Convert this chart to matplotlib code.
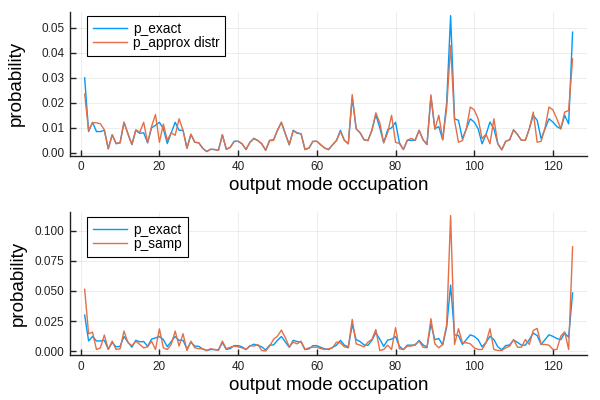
import matplotlib
matplotlib.use("Agg")
import matplotlib.pyplot as plt
import numpy as np

plt.rcParams['font.family'] = ['Liberation Sans', 'DejaVu Sans']

# output mode index 1..125
modes = np.arange(1, 126)

p_exact = [
    0.030, 0.0085, 0.0122, 0.0085, 0.0085, 0.009, 0.0016, 0.0072, 0.0036, 0.004,
    0.0122, 0.0076, 0.0033, 0.009, 0.0078, 0.008, 0.004, 0.010, 0.011, 0.0122,
    0.0096, 0.0037, 0.008, 0.0122, 0.009, 0.009, 0.0018, 0.0074, 0.0042, 0.004,
    0.0018, 0.0005, 0.0014, 0.0013, 0.001, 0.0072, 0.0014, 0.0022, 0.0046, 0.0046,
    0.0036, 0.0013, 0.0042, 0.0058, 0.0049, 0.0036, 0.001, 0.005, 0.0052, 0.009,
    0.0122, 0.0076, 0.0032, 0.009, 0.008, 0.0076, 0.0013, 0.0019, 0.0046, 0.0046,
    0.0032, 0.0019, 0.0013, 0.0032, 0.0049, 0.009, 0.005, 0.0036, 0.022, 0.0096,
    0.008, 0.0052, 0.0049, 0.009, 0.0153, 0.010, 0.004, 0.0092, 0.010, 0.0122,
    0.004, 0.0013, 0.005, 0.005, 0.005, 0.009, 0.0052, 0.0033, 0.0225, 0.0096,
    0.0105, 0.0052, 0.020, 0.0549, 0.0136, 0.013, 0.0056, 0.0096, 0.0136, 0.0123,
    0.0096, 0.0036, 0.0073, 0.0123, 0.0096, 0.0036, 0.0012, 0.0046, 0.0052, 0.0092,
    0.0073, 0.005, 0.005, 0.0096, 0.015, 0.013, 0.0056, 0.0096, 0.0136, 0.0123,
    0.0105, 0.0096, 0.015, 0.0116, 0.0483,
]

p_approx = [
    0.0235, 0.009, 0.012, 0.012, 0.0116, 0.0092, 0.0016, 0.0072, 0.0038, 0.004,
    0.0122, 0.0076, 0.0033, 0.0092, 0.0082, 0.0122, 0.004, 0.0105, 0.0153, 0.0042,
    0.0115, 0.005, 0.008, 0.007, 0.0136, 0.009, 0.0018, 0.0074, 0.0042, 0.004,
    0.0018, 0.0005, 0.0014, 0.0013, 0.001, 0.0072, 0.0014, 0.0022, 0.0045, 0.0046,
    0.0036, 0.0013, 0.0042, 0.0056, 0.0049, 0.0036, 0.001, 0.0048, 0.005, 0.009,
    0.0122, 0.0076, 0.0032, 0.0088, 0.0078, 0.0076, 0.0013, 0.0019, 0.0045, 0.0046,
    0.0032, 0.0019, 0.0013, 0.0032, 0.0049, 0.0085, 0.005, 0.0036, 0.0233, 0.0096,
    0.008, 0.0052, 0.0049, 0.009, 0.016, 0.012, 0.004, 0.008, 0.015, 0.0042,
    0.0037, 0.0013, 0.005, 0.0058, 0.005, 0.009, 0.0052, 0.0033, 0.0232, 0.0094,
    0.015, 0.0052, 0.018, 0.0429, 0.013, 0.0042, 0.0049, 0.0096, 0.0183, 0.0172,
    0.0136, 0.0056, 0.0075, 0.0036, 0.0136, 0.0036, 0.0012, 0.0046, 0.0052, 0.0092,
    0.0073, 0.005, 0.005, 0.0096, 0.0163, 0.0042, 0.0046, 0.010, 0.0183, 0.0172,
    0.0136, 0.0096, 0.0163, 0.0169, 0.0376,
]

p_samp = [
    0.0514, 0.0145, 0.0158, 0.0014, 0.0028, 0.0134, 0.0014, 0.0083, 0.0014, 0.002,
    0.0167, 0.007, 0.0045, 0.0083, 0.0056, 0.0028, 0.0036, 0.0083, 0.0014, 0.0186,
    0.0028, 0.0014, 0.0056, 0.0167, 0.0042, 0.0145, 0.0006, 0.0083, 0.0028, 0.002,
    0.002, 0.0006, 0.002, 0.0014, 0.0008, 0.0083, 0.002, 0.0033, 0.0042, 0.0036,
    0.0028, 0.0014, 0.0047, 0.0042, 0.0056, 0.0006, 0.0002, 0.0042, 0.0098, 0.0125,
    0.0175, 0.0111, 0.0036, 0.0075, 0.0061, 0.0083, 0.0014, 0.0028, 0.0033, 0.0033,
    0.0022, 0.0014, 0.002, 0.0028, 0.0075, 0.007, 0.0036, 0.0028, 0.0264, 0.0061,
    0.005, 0.0036, 0.0075, 0.0098, 0.018, 0.0006, 0.0014, 0.005, 0.0014, 0.0195,
    0.002, 0.0014, 0.0042, 0.0042, 0.0056, 0.0083, 0.0033, 0.0028, 0.027, 0.0061,
    0.0028, 0.0056, 0.022, 0.1125, 0.0056, 0.0186, 0.007, 0.007, 0.0061, 0.0028,
    0.0014, 0.0014, 0.007, 0.0186, 0.0014, 0.0006, 0.0006, 0.0028, 0.0042, 0.0097,
    0.0033, 0.0033, 0.0097, 0.0056, 0.0172, 0.0189, 0.0056, 0.0056, 0.005, 0.0014,
    0.0014, 0.0125, 0.0161, 0.0014, 0.0867,
]

xticks = [0, 20, 40, 60, 80, 100, 120]
yticks_top = [0.00, 0.01, 0.02, 0.03, 0.04, 0.05]
yticks_bottom = [0.000, 0.025, 0.050, 0.075, 0.100]

BLUE = "#009AFA"
ORANGE = "#E36F47"


def style_axis(ax, ys, yticks, fmt, ylabelpad):
    # julia-ish look: 3% margins, faint grid, only left/bottom spines
    lo, hi = min(min(y) for y in ys), max(max(y) for y in ys)
    pad = 0.03 * (hi - lo)
    ax.set_ylim(lo - pad, hi + pad)
    ax.set_xlim(1 - 0.03 * 124, 125 + 0.03 * 124)
    ax.set_xticks(xticks)
    ax.set_yticks(yticks)
    ax.set_yticklabels([fmt.format(t) for t in yticks])
    ax.grid(True, color="black", alpha=0.1, linewidth=0.5)
    ax.set_axisbelow(True)
    for s in ["top", "right"]:
        ax.spines[s].set_visible(False)
    for s in ["left", "bottom"]:
        ax.spines[s].set_linewidth(1.0)
        ax.spines[s].set_color("#222222")
    ax.tick_params(direction="in", length=4, width=1, labelsize=8.5,
                   colors="#222222", pad=4)
    ax.set_xlabel("output mode occupation", fontsize=13.5, labelpad=3)
    ax.set_ylabel("probability", fontsize=13.5, labelpad=ylabelpad)


fig = plt.figure(figsize=(6, 4), dpi=100)
ax1 = fig.add_axes([0.1167, 0.611, 0.862, 0.36])
ax2 = fig.add_axes([0.1167, 0.1125, 0.862, 0.3585])

ax1.plot(modes, p_exact, color=BLUE, linewidth=1, label="p_exact")
ax1.plot(modes, p_approx, color=ORANGE, linewidth=1, label="p_approx distr")
style_axis(ax1, [p_exact, p_approx], yticks_top, "{:.2f}", 12)

ax2.plot(modes, p_exact, color=BLUE, linewidth=1, label="p_exact")
ax2.plot(modes, p_samp, color=ORANGE, linewidth=1, label="p_samp")
style_axis(ax2, [p_exact, p_samp], yticks_bottom, "{:.3f}", 6)

for ax, top in ((ax1, 0.97), (ax2, 0.965)):
    leg = ax.legend(loc="upper left", fontsize=9.8, fancybox=False,
                    framealpha=1, edgecolor="black", borderpad=0.45,
                    handlelength=2.45, handletextpad=0.45, labelspacing=0.0,
                    borderaxespad=0, bbox_to_anchor=(0.033, top))
    leg.get_frame().set_linewidth(0.8)

fig.savefig("out.png", dpi=100)
